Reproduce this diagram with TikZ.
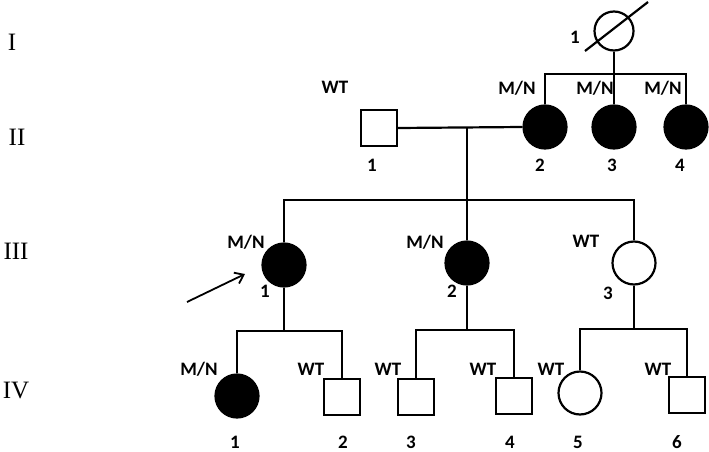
\documentclass[tikz,border=0pt]{standalone}
\usepackage{fontspec}
\setmainfont{Liberation Serif}
\newfontfamily\labfont{Carlito}
\usetikzlibrary{arrows.meta}
\begin{document}
\begin{tikzpicture}[x=1pt,y=-1pt,line width=2.2pt,
  aff/.style={circle,draw,fill=black,minimum size=43pt,inner sep=0pt},
  fem/.style={circle,draw,fill=white,minimum size=43pt,inner sep=0pt},
  mal/.style={rectangle,draw,fill=white,minimum size=36pt,inner sep=0pt},
  lab/.style={inner sep=0pt,font=\labfont\bfseries\fontsize{19pt}{21pt}\selectfont},
  gen/.style={inner sep=0pt,font=\fontsize{25pt}{28pt}\selectfont}]
\useasboundingbox (0,0) rectangle (709,452);
% generation labels
\node[gen] (gI) at (12,42) {I};
\node[gen] (gII) at (17,137) {II};
\node[gen] (gIII) at (16,251) {III};
\node[gen] (gIV) at (16,390) {IV};
% individuals
\node[circle,draw,fill=white,minimum size=39pt,inner sep=0pt] (I1) at (614,31) {};
\coordinate (s1) at (585,51);
\coordinate (s2) at (648,2);
\draw (s1) -- (s2);
\node[mal] (II1) at (379,128) {};
\node[aff] (II2) at (545,127) {};
\node[aff] (II3) at (614,127) {};
\node[aff] (II4) at (686,127) {};
\node[aff] (III1) at (284,265) {};
\node[aff] (III2) at (467,263) {};
\node[fem] (III3) at (634,263) {};
\node[aff] (IV1) at (237,396) {};
\node[mal] (IV2) at (342,397) {};
\node[mal] (IV3) at (416,397) {};
\node[mal] (IV4) at (514,396) {};
\node[fem] (IV5) at (580,393) {};
\node[mal] (IV6) at (687,395) {};
% junctions
\coordinate (j2) at (614,74);
\coordinate (m) at (467,127);
\coordinate (j3) at (467,200);
\coordinate (j4a) at (284,331);
\coordinate (j4b) at (467,330);
\coordinate (j4c) at (634,329);
% connectors
\draw (I1) -- (j2);
\draw (II2.north) |- (j2) -| (II4.north);
\draw (j2) -- (II3.north);
\draw (II1.east) -- (II2.west);
\draw (m) -- (j3);
\draw (III1.north) |- (j3) -| (III3.north);
\draw (j3) -- (III2.north);
\draw (III1.south) -- (j4a);
\draw (IV1.north) |- (j4a) -| (IV2.north);
\draw (III2.south) -- (j4b);
\draw (IV3.north) |- (j4b) -| (IV4.north);
\draw (III3.south) -- (j4c);
\draw (IV5.north) |- (j4c) -| (IV6.north);
% proband arrow
\coordinate (a0) at (187,302);
\coordinate (a1) at (245,274);
\draw[line width=1.8pt,-{Straight Barb[length=8pt,width=12pt]}] (a0) -- (a1);
% labels gen I/II
\node[lab] (lI1) at (575,37) {1};
\node[lab] (tII1) at (335,87) {WT};
\node[lab] (tII2) at (517,88) {M/N};
\node[lab] (tII3) at (595,88) {M/N};
\node[lab] (tII4) at (663,88) {M/N};
\node[lab] (nII1) at (372,165) {1};
\node[lab] (nII2) at (540,165) {2};
\node[lab] (nII3) at (612,165) {3};
\node[lab] (nII4) at (680,165) {4};
% gen III
\node[lab] (tIII1) at (246,242) {M/N};
\node[lab] (tIII2) at (425,242) {M/N};
\node[lab] (tIII3) at (586,241) {WT};
\node[lab] (nIII1) at (265,291) {1};
\node[lab] (nIII2) at (452,291) {2};
\node[lab] (nIII3) at (608,293) {3};
% gen IV
\node[lab] (tIV1) at (199,369) {M/N};
\node[lab] (tIV2) at (311,369) {WT};
\node[lab] (tIV3) at (388,369) {WT};
\node[lab] (tIV4) at (483,369) {WT};
\node[lab] (tIV5) at (551,369) {WT};
\node[lab] (tIV6) at (658,369) {WT};
\node[lab] (nIV1) at (235,442) {1};
\node[lab] (nIV2) at (343,442) {2};
\node[lab] (nIV3) at (411,442) {3};
\node[lab] (nIV4) at (510,442) {4};
\node[lab] (nIV5) at (578,442) {5};
\node[lab] (nIV6) at (677,442) {6};
\end{tikzpicture}
\end{document}
